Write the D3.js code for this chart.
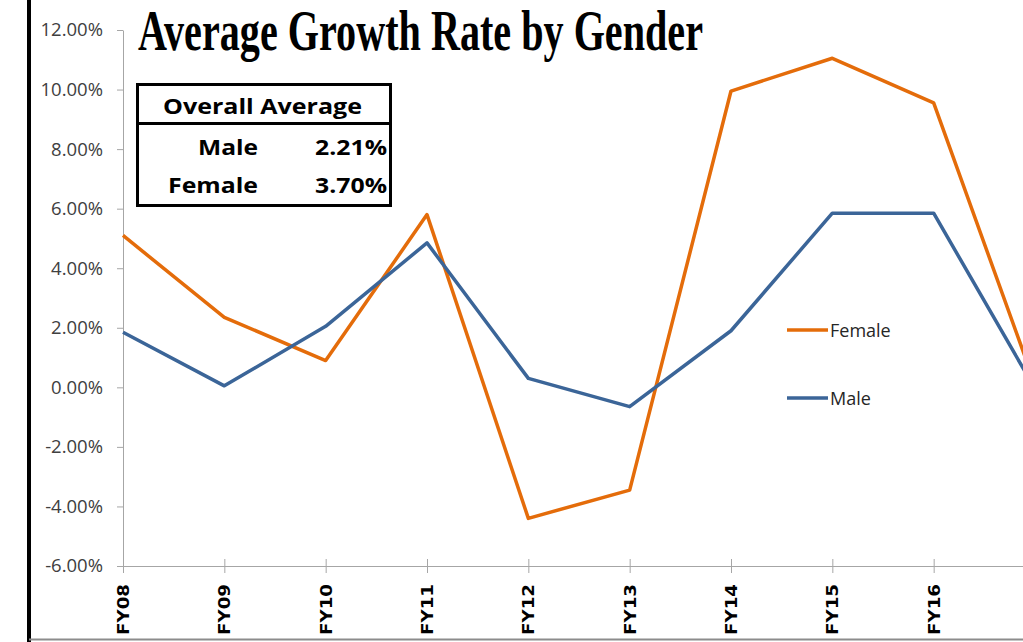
<!DOCTYPE html>
<html>
<head>
<meta charset="utf-8">
<script src="https://cdn.jsdelivr.net/npm/d3@7"></script>
<style>
  body { margin: 0; background: #fff; }
  svg { display: block; }
</style>
</head>
<body>
<script>
(function() {

	var width = 1023,
		height = 642;

	// data
	var years = ["FY08", "FY09", "FY10", "FY11", "FY12", "FY13", "FY14", "FY15", "FY16", "FY17"];
	var femaleRate = [0.051, 0.0235, 0.009, 0.058, -0.044, -0.0345, 0.0995, 0.1105, 0.0955, 0.001];
	var maleRate = [0.0185, 0.0005, 0.0205, 0.0485, 0.003, -0.0065, 0.019, 0.0585, 0.0585, -0.0005];
	var yTicks = [-0.06, -0.04, -0.02, 0, 0.02, 0.04, 0.06, 0.08, 0.10, 0.12];
	var averageRows = [["Male", "2.21%"], ["Female", "3.70%"]];

	// colors
	var femaleColor = "#e46c0a",
		maleColor = "#3b6598",
		axisColor = "#a6a6a6",
		textColor = "#404040";

	var pct = d3.format(".2%");

	var svg = d3.select("body").append("svg")
		.attr("width", width)
		.attr("height", height);

	var x = d3.scalePoint()
		.domain(years)
		.range([123, 1035]);

	var y = d3.scaleLinear()
		.domain([-0.06, 0.12])
		.range([566, 30]);

	// frame lines
	svg.append("rect")
		.attr("x", 27).attr("y", 0)
		.attr("width", 4).attr("height", height)
		.attr("fill", "#000");
	svg.append("line")
		.attr("x1", 29).attr("x2", width)
		.attr("y1", 639.5).attr("y2", 639.5)
		.attr("stroke", "#8c8c8c")
		.attr("stroke-width", 2);

	// y axis
	var yAxis = svg.append("g")
		.attr("transform", "translate(123,0)")
		.call(d3.axisLeft(y)
			.tickValues(yTicks)
			.tickFormat(function(d) { return pct(d).replace("\u2212", "-"); })
			.tickSizeInner(6)
			.tickSizeOuter(0)
			.tickPadding(14));
	yAxis.select(".domain").attr("stroke", axisColor);
	yAxis.selectAll(".tick line").attr("stroke", axisColor);
	yAxis.selectAll(".tick text")
		.attr("fill", textColor)
		.style("font-family", "'Open Sans', sans-serif")
		.style("font-size", "18.5px");

	// x axis (only the categories that fall inside the picture get a label)
	var shown = years.filter(function(d) { return x(d) < width; });
	var xAxis = svg.append("g");
	xAxis.append("line")
		.attr("x1", 123).attr("x2", width)
		.attr("y1", y(-0.06) + 0.5).attr("y2", y(-0.06) + 0.5)
		.attr("stroke", axisColor);
	xAxis.selectAll(".xtick")
		.data(shown)
		.enter()
		.append("line")
		.attr("class", "xtick")
		.attr("x1", function(d) { return x(d) + 0.5; })
		.attr("x2", function(d) { return x(d) + 0.5; })
		.attr("y1", y(-0.06) - 7)
		.attr("y2", y(-0.06) + 7)
		.attr("stroke", axisColor);
	xAxis.selectAll(".xlabel")
		.data(shown)
		.enter()
		.append("text")
		.attr("class", "xlabel")
		.attr("transform", function(d) { return "translate(" + (x(d) + 6) + ",584) rotate(-90)"; })
		.attr("text-anchor", "end")
		.attr("textLength", 51)
		.attr("lengthAdjust", "spacingAndGlyphs")
		.style("font-family", "'DejaVu Sans', sans-serif")
		.style("font-weight", "bold")
		.style("font-size", "15.5px")
		.attr("fill", "#000")
		.text(function(d) { return d; });

	// lines
	var line = d3.line()
		.x(function(d, i) { return x(years[i]); })
		.y(function(d) { return y(d); });

	svg.append("path")
		.datum(femaleRate)
		.attr("d", line)
		.attr("fill", "none")
		.attr("stroke", femaleColor)
		.attr("stroke-width", 3.5)
		.attr("stroke-linejoin", "round");

	svg.append("path")
		.datum(maleRate)
		.attr("d", line)
		.attr("fill", "none")
		.attr("stroke", maleColor)
		.attr("stroke-width", 3.5)
		.attr("stroke-linejoin", "round");

	// legend
	var legend = svg.append("g");
	[["Female", femaleColor, 330], ["Male", maleColor, 398]].forEach(function(l) {
		legend.append("line")
			.attr("x1", 787).attr("x2", 828)
			.attr("y1", l[2]).attr("y2", l[2])
			.attr("stroke", l[1])
			.attr("stroke-width", 3.5);
		legend.append("text")
			.attr("x", 830).attr("y", l[2] + 7)
			.style("font-family", "'Open Sans', sans-serif")
			.style("font-size", "18px")
			.attr("fill", "#262626")
			.text(l[0]);
	});

	// title
	svg.append("text")
		.attr("x", 138).attr("y", 50)
		.attr("textLength", 565)
		.attr("lengthAdjust", "spacingAndGlyphs")
		.style("font-family", "'Liberation Serif', serif")
		.style("font-weight", "bold")
		.style("font-size", "56px")
		.attr("fill", "#000")
		.text("Average Growth Rate by Gender");

	// overall average table
	var table = svg.append("g")
		.style("font-family", "'Open Sans', sans-serif")
		.style("font-weight", "bold")
		.style("font-size", "22px");
	table.append("rect")
		.attr("x", 137.5).attr("y", 84.5)
		.attr("width", 253).attr("height", 121)
		.attr("fill", "#fff")
		.attr("stroke", "#000")
		.attr("stroke-width", 3);
	table.append("line")
		.attr("x1", 137).attr("x2", 391)
		.attr("y1", 123.5).attr("y2", 123.5)
		.attr("stroke", "#000")
		.attr("stroke-width", 3);
	table.append("text")
		.attr("x", 163).attr("y", 114)
		.attr("textLength", 199)
		.attr("lengthAdjust", "spacingAndGlyphs")
		.text("Overall Average");
	table.selectAll(".row")
		.data(averageRows)
		.enter()
		.append("g")
		.attr("class", "row")
		.each(function(d, i) {
			var g = d3.select(this);
			var yy = 155 + i * 38;
			var w = d[0].length * 15;
			g.append("text")
				.attr("x", 258 - w).attr("y", yy)
				.attr("textLength", w)
				.attr("lengthAdjust", "spacingAndGlyphs")
				.text(d[0]);
			g.append("text")
				.attr("x", 315).attr("y", yy)
				.attr("textLength", 72)
				.attr("lengthAdjust", "spacingAndGlyphs")
				.text(d[1]);
		});

})();
</script>
</body>
</html>
